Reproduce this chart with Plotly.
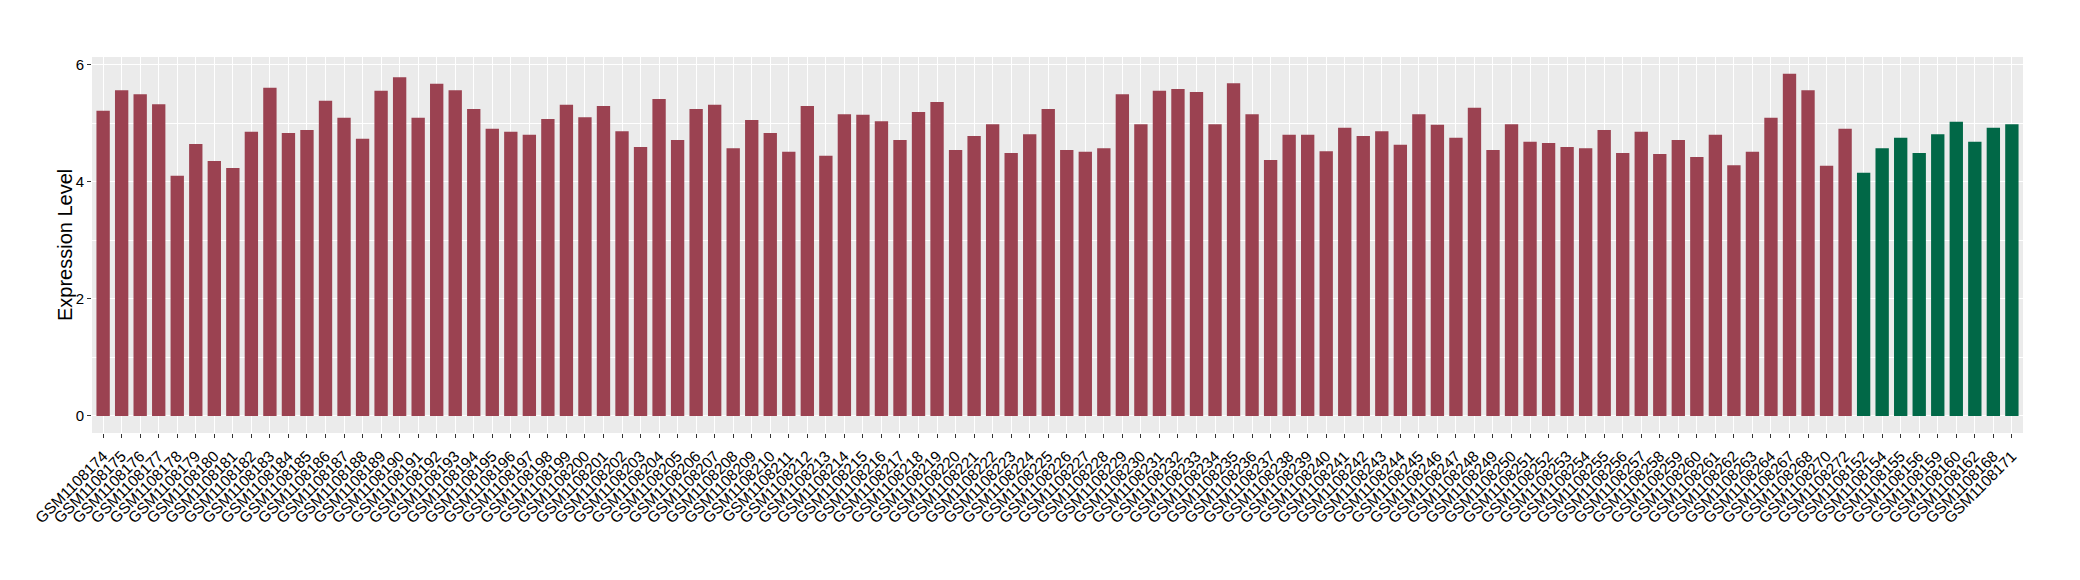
import plotly.graph_objects as go

red_ids = list(range(1108174, 1108265)) + [1108267, 1108268, 1108270, 1108272]
green_ids = [1108152, 1108154, 1108155, 1108156, 1108159, 1108160, 1108162, 1108168, 1108171]

red_labels = ["GSM%d" % i for i in red_ids]
green_labels = ["GSM%d" % i for i in green_ids]

red_values = [
    5.21, 5.56, 5.49, 5.32, 4.10, 4.64, 4.35, 4.23, 4.85, 5.60,
    4.83, 4.88, 5.38, 5.09, 4.73, 5.55, 5.78, 5.09, 5.67, 5.56,
    5.24, 4.90, 4.85, 4.80, 5.07, 5.31, 5.10, 5.29, 4.86, 4.59,
    5.41, 4.71, 5.24, 5.31, 4.57, 5.05, 4.83, 4.51, 5.29, 4.44,
    5.15, 5.14, 5.03, 4.71, 5.19, 5.36, 4.54, 4.78, 4.98, 4.49,
    4.81, 5.24, 4.54, 4.51, 4.57, 5.49, 4.98, 5.55, 5.58, 5.53,
    4.98, 5.68, 5.15, 4.37, 4.80, 4.80, 4.52, 4.92, 4.78, 4.86,
    4.63, 5.15, 4.97, 4.75, 5.26, 4.54, 4.98, 4.68, 4.66, 4.59,
    4.57, 4.88, 4.49, 4.85, 4.47, 4.71, 4.42, 4.80, 4.28, 4.51,
    5.09, 5.84, 5.56, 4.27, 4.90,
]
green_values = [4.15, 4.57, 4.75, 4.49, 4.81, 5.02, 4.68, 4.92, 4.98]

y_ticks = [0, 2, 4, 6]
y_title = "Expression Level"

all_labels = red_labels + green_labels

RED = "#9B4251"
GREEN = "#016847"

fig = go.Figure()
fig.add_trace(go.Bar(x=red_labels, y=red_values, marker=dict(color=RED, line=dict(width=0)),
                     showlegend=False, hoverinfo="skip"))
fig.add_trace(go.Bar(x=green_labels, y=green_values, marker=dict(color=GREEN, line=dict(width=0)),
                     showlegend=False, hoverinfo="skip"))

font_family = "Liberation Sans, Arial, sans-serif"

fig.update_layout(
    width=2080, height=580,
    margin=dict(l=92, r=57, t=57, b=147),
    paper_bgcolor="white",
    plot_bgcolor="#EBEBEB",
    bargap=0.28,
    barmode="overlay",
    font=dict(family=font_family, color="black"),
    xaxis=dict(
        type="category",
        categoryorder="array",
        categoryarray=all_labels,
        range=[-0.6, len(all_labels) - 0.4],
        tickmode="array", tickvals=all_labels, ticktext=all_labels,
        tickangle=-45,
        tickfont=dict(size=15.5, color="black", family=font_family),
        ticks="outside", ticklen=4, tickwidth=1, tickcolor="#333333",
        ticklabelstandoff=3,
        showgrid=True, gridcolor="white", gridwidth=1.3,
        zeroline=False, showline=False,
        automargin=False,
    ),
    yaxis=dict(
        range=[-0.292, 6.127],
        tickmode="array", tickvals=y_ticks, ticktext=[str(v) for v in y_ticks],
        tickfont=dict(size=15, color="black", family=font_family),
        ticks="outside", ticklen=4, tickwidth=1, tickcolor="#333333",
        showgrid=True, gridcolor="white", gridwidth=1.3,
        minor=dict(tickmode="array", tickvals=[1, 3, 5], showgrid=True,
                   gridcolor="white", gridwidth=0.6, ticks=""),
        zeroline=False, showline=False,
        automargin=False,
    ),
    annotations=[dict(
        text=y_title, textangle=-90, showarrow=False,
        xref="paper", yref="paper", x=0, y=0.5,
        xanchor="center", yanchor="middle", xshift=-27,
        font=dict(size=20, color="black", family=font_family),
    )],
)

fig.write_html("out.html", config={"displayModeBar": False},
               post_script="document.body.style.margin='0px';")
